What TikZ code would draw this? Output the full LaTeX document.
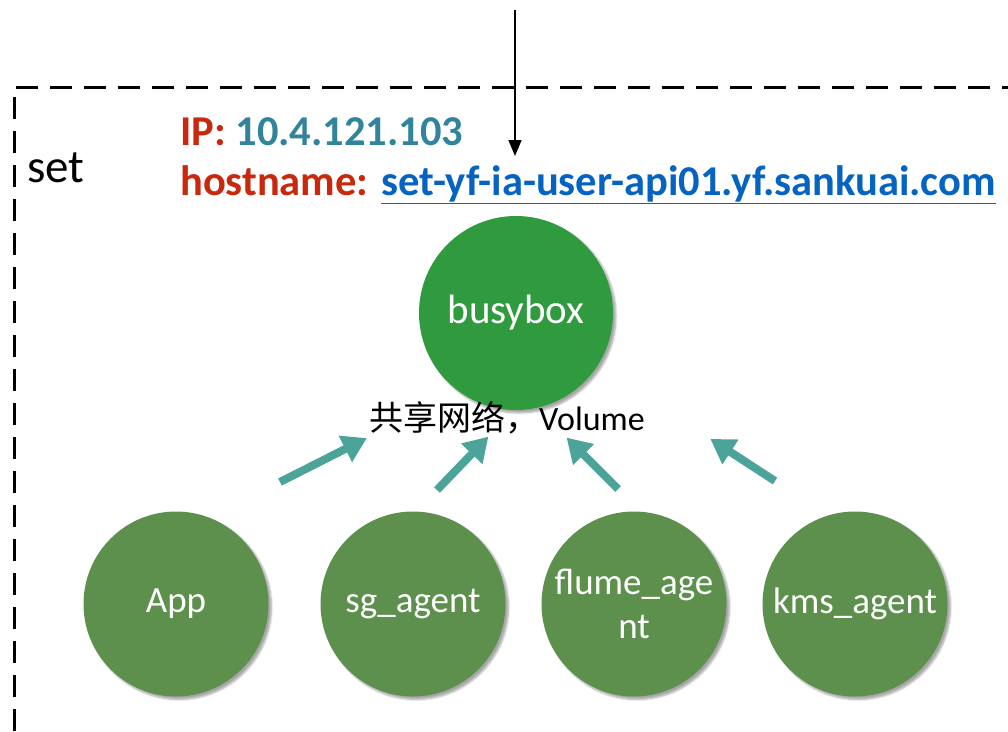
\documentclass[tikz,border=0pt]{standalone}
\usepackage{fontspec}
\setmainfont{Carlito}
\newfontfamily\cjkfont{Noto Sans CJK SC}
\usetikzlibrary{arrows.meta,shadows.blur}

\definecolor{labelred}{HTML}{C8280C}
\definecolor{ipteal}{HTML}{31849B}
\definecolor{linkblue}{HTML}{0563C1}
\definecolor{hubgreen}{HTML}{2F9A3E}
\definecolor{podgreen}{HTML}{5C904C}
\definecolor{arrowteal}{HTML}{4BA399}

\tikzset{
  frame/.style={line width=3pt, dash pattern=on 22pt off 12pt},
  hub/.style={circle, fill=hubgreen, minimum size=194pt, inner sep=0pt,
    text=white, font=\fontsize{41}{46}\selectfont,
    blur shadow={shadow xshift=3pt, shadow yshift=-3pt, shadow blur steps=6, shadow opacity=35}},
  pod/.style={circle, fill=podgreen, minimum size=185pt, inner sep=0pt,
    text=white, font=\fontsize{37}{44}\selectfont, align=center,
    blur shadow={shadow xshift=3pt, shadow yshift=-3pt, shadow blur steps=6, shadow opacity=35}},
  share/.style={line width=8pt, draw=arrowteal,
    -{Triangle[length=24pt,width=28pt]}, shorten >=-2pt},
  entry/.style={line width=1.6pt, -{Triangle[length=16pt,width=13pt]}},
  info/.style={font=\bfseries\fontsize{42.5}{46}\selectfont, anchor=base west, inner sep=0pt},
}

\begin{document}
\begin{tikzpicture}[x=1pt, y=-1pt]
\useasboundingbox (0,0) rectangle (1008,731);

% dashed boundary of the set
\draw[frame] (14,731) -- (14,87) -- (1008,87);
\node[anchor=base west, inner sep=0pt, font=\fontsize{47}{52}\selectfont] (setlabel) at (27,182) {set};

% incoming request
\coordinate (reqtop) at (515,10);
\coordinate (reqend) at (515,156);
\draw[entry] (reqtop) -- (reqend);

% host information
\node[info] (ipline) at (180,145) {\textcolor{labelred}{IP:} \textcolor{ipteal}{10.4.121.103}};
\node[info] (hostline) at (180,195) {\textcolor{labelred}{hostname:} \textcolor{linkblue}{\underline{set-yf-ia-user-api01.yf.sankuai.com}}};

% pause container
\node[hub] (busybox) at (516,313) {busybox};
\node[anchor=base, inner sep=0pt] (shared) at (507,430)
  {\cjkfont\fontsize{34}{38}\selectfont 共享网络，\fontspec{Carlito}\fontsize{34}{38}\selectfont Volume};

% containers of the set
\node[pod] (app) at (176,604) {App};
\node[pod] (sg) at (413,604) {sg\_agent};
\node[pod] (flume) at (634,604) {flume\_age\\nt};
\node[pod] (kms) at (855,604) {kms\_agent};

% sharing arrows
\coordinate (a1s) at (280,482); \coordinate (a1e) at (365,439);
\coordinate (a2s) at (437,490); \coordinate (a2e) at (487,438);
\coordinate (a3s) at (618,489); \coordinate (a3e) at (568,439);
\coordinate (a4s) at (775,481); \coordinate (a4e) at (712,440);
\draw[share] (a1s) -- (a1e);
\draw[share] (a2s) -- (a2e);
\draw[share] (a3s) -- (a3e);
\draw[share] (a4s) -- (a4e);
\end{tikzpicture}
\end{document}
